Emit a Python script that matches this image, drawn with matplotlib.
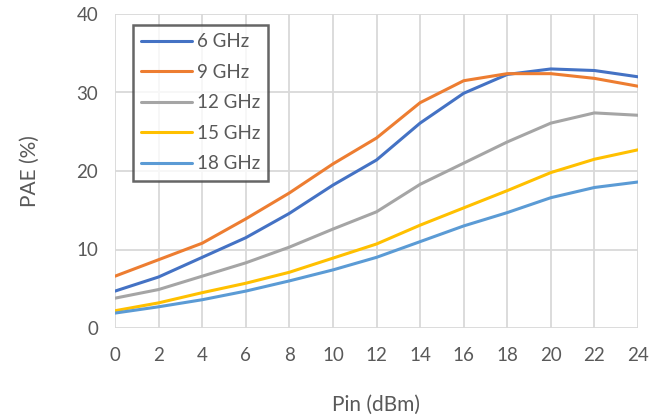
import matplotlib
matplotlib.use("Agg")
import matplotlib.pyplot as plt

pin = [0, 2, 4, 6, 8, 10, 12, 14, 16, 18, 20, 22, 24]
labels = ["6 GHz", "9 GHz", "12 GHz", "15 GHz", "18 GHz"]
pae_6 = [4.7, 6.5, 9.0, 11.5, 14.6, 18.2, 21.4, 26.1, 29.9, 32.3, 33.0, 32.8, 32.0]
pae_9 = [6.6, 8.7, 10.8, 13.9, 17.2, 20.9, 24.2, 28.7, 31.5, 32.4, 32.4, 31.8, 30.8]
pae_12 = [3.8, 4.9, 6.6, 8.3, 10.3, 12.6, 14.8, 18.3, 21.0, 23.7, 26.1, 27.4, 27.1]
pae_15 = [2.2, 3.2, 4.5, 5.7, 7.1, 8.9, 10.7, 13.1, 15.3, 17.5, 19.8, 21.5, 22.7]
pae_18 = [1.9, 2.7, 3.6, 4.7, 6.0, 7.4, 9.0, 11.0, 13.0, 14.7, 16.6, 17.9, 18.6]
colors = ["#4472C4", "#ED7D31", "#A5A5A5", "#FFC000", "#5B9BD5"]

plt.rcParams['font.family'] = ['Lato', 'DejaVu Sans']

fig = plt.figure(figsize=(6.62, 4.2), dpi=100)
ax = fig.add_axes([115/662, 1 - 328/420, 523/662, 314/420])

for ys, lab, c in zip([pae_6, pae_9, pae_12, pae_15, pae_18], labels, colors):
    ax.plot(pin, ys, color=c, lw=2.2, label=lab, solid_capstyle='round')

ax.set_xlim(0, 24)
ax.set_ylim(0, 40)
ax.set_xticks(pin)
ax.set_yticks([0, 10, 20, 30, 40])
ax.grid(True, color="#D9D9D9", lw=1.3)
ax.set_axisbelow(True)
for s in ax.spines.values():
    s.set_visible(False)
ax.tick_params(length=0, labelsize=13.5, labelcolor="#595959", pad=12)
ax.tick_params(axis='x', pad=14)

ax.set_xlabel("Pin (dBm)", fontsize=15, color="#595959", labelpad=22)
ax.set_ylabel("PAE (%)", fontsize=15, color="#595959", labelpad=26)

leg = ax.legend(loc='upper left', bbox_to_anchor=(0.034, 0.965), borderaxespad=0,
                fontsize=13.5, frameon=True, fancybox=False, handlelength=2.7,
                handletextpad=0.25, labelspacing=0.72, borderpad=0.45)
leg.get_frame().set_edgecolor("#404040")
leg.get_frame().set_linewidth(1.8)
for t in leg.get_texts():
    t.set_color("#595959")

fig.savefig("out.png", dpi=100)
